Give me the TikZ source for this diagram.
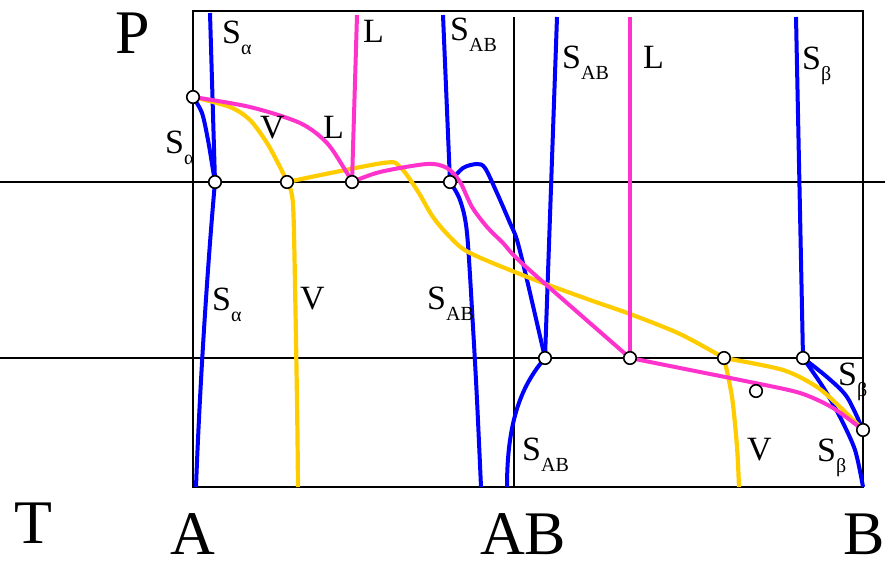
\documentclass[tikz,border=0pt]{standalone}
\usepackage{fontspec}
\setmainfont{Liberation Serif}
\usetikzlibrary{positioning}
\definecolor{phblue}{RGB}{0,0,255}
\definecolor{phpink}{RGB}{255,51,204}
\definecolor{phgold}{RGB}{255,204,0}
\newcommand{\phase}[2]{#1\raisebox{-11pt}{\fontsize{20}{20}\selectfont #2}}

\begin{document}
\begin{tikzpicture}[x=1pt,y=-1pt,
  frame/.style={line width=2pt},
  sb/.style={phblue,line width=4pt},
  sy/.style={phgold,line width=4.2pt},
  sm/.style={phpink,line width=4pt},
  pt/.style={circle,draw,fill=white,inner sep=0pt,minimum size=12.5pt,line width=1.6pt},
  lbl/.style={anchor=base west,inner sep=0pt,font=\fontsize{34}{34}\selectfont},
  big/.style={anchor=base west,inner sep=0pt,font=\fontsize{62}{62}\selectfont}]
  \useasboundingbox (0,0) rectangle (885,560);
  % points where the curves meet
  \coordinate (tp) at (193,97);
  \coordinate (a1) at (215,182);
  \coordinate (v1) at (287,182);
  \coordinate (l1) at (352,182);
  \coordinate (s1) at (450,182);
  \coordinate (s2) at (545,358);
  \coordinate (l2) at (630,358);
  \coordinate (v2) at (724,358);
  \coordinate (b1) at (803,358);
  \coordinate (tb) at (863,430);
  \coordinate (iso) at (756,391);
  % frame and isobars
  \draw[frame] (193,11) rectangle (863,487);
  \draw[frame] (0,182) -- (885,182);
  \draw[frame] (0,358) -- (863,358);
  \draw[frame] (514,17) -- (514,487);
  % solids
  \draw[sb] (210,13) -- (a1);
  \draw[sb] (a1) .. controls (208,260) and (200,380) .. (196,487);
  \draw[sb] plot[smooth] coordinates {(tp) (202,113) (208,140) (213,170) (a1)};
  \draw[sb] (443,15) -- (s1);
  \draw[sb] plot[smooth] coordinates {(s1) (460,200) (467,233) (473,327) (477,400) (481,487)};
  \draw[sb] plot[smooth] coordinates {(s1) (463,168) (477,164) (485,168) (497,193) (510,223) (517,240) (527,280) (s2)};
  \draw[sb] (557,17) -- (s2);
  \draw[sb] (s2) .. controls (522,385) and (507,420) .. (507,487);
  \draw[sb] (796,17) -- (b1);
  \draw[sb] plot[smooth] coordinates {(b1) (827,377) (847,397) (tb)};
  \draw[sb] plot[smooth] coordinates {(b1) (823,387) (840,417) (855,450) (863,487)};
  % vapour
  \draw[sy] plot[smooth] coordinates {(tp) (230,107) (250,120) (267,143) (280,167) (v1)};
  \draw[sy] plot[smooth] coordinates {(v1) (292,195) (294,233) (297,400) (298,487)};
  \draw[sy] plot[smooth] coordinates {(v1) (383,163) (400,167) (417,190) (433,217) (450,237) (470,253) (530,278) (590,300) (630,314) (680,334) (v2)};
  \draw[sy] plot[smooth] coordinates {(v2) (732,397) (737,447) (739,487)};
  \draw[sy] plot[smooth] coordinates {(v2) (783,370) (817,387) (840,407) (tb)};
  % liquid
  \draw[sm] plot[smooth] coordinates {(tp) (250,107) (300,123) (327,143) (347,173) (l1)};
  \draw[sm] (357,15) -- (l1);
  \draw[sm] plot[smooth] coordinates {(l1) (380,172) (427,164) (447,168) (460,182) (472,207) (487,227) (503,243) (525,266) (l2)};
  \draw[sm] (630,17) -- (l2);
  \draw[sm] plot[smooth] coordinates {(l2) (700,372) (750,382) (800,393) (833,408) (tb)};
  % circles
  \node[pt] (ntp) at (tp) {};
  \node[pt] (na1) at (a1) {};
  \node[pt] (nv1) at (v1) {};
  \node[pt] (nl1) at (l1) {};
  \node[pt] (ns1) at (s1) {};
  \node[pt] (ns2) at (s2) {};
  \node[pt] (nl2) at (l2) {};
  \node[pt] (nv2) at (v2) {};
  \node[pt] (nb1) at (b1) {};
  \node[pt] (ntb) at (tb) {};
  \node[pt] (niso) at (iso) {};
  % labels
  \node[lbl] (sa1) at (222,43) {\phase{S}{α}};
  \node[lbl] (la1) at (363,42) {L};
  \node[lbl] (sab1) at (450,40) {\phase{S}{AB}};
  \node[lbl] (sab2) at (562,68) {\phase{S}{AB}};
  \node[lbl] (la2) at (643,68) {L};
  \node[lbl] (sbe1) at (802,69) {\phase{S}{β}};
  \node[lbl] (sa2) at (165,153) {\phase{S}{α}};
  \node[lbl] (va1) at (260,138) {V};
  \node[lbl] (la3) at (323,138) {L};
  \node[lbl] (sa3) at (212,310) {\phase{S}{α}};
  \node[lbl] (va2) at (300,309) {V};
  \node[lbl] (sab3) at (427,309) {\phase{S}{AB}};
  \node[lbl] (sab4) at (522,460) {\phase{S}{AB}};
  \node[lbl] (va3) at (747,460) {V};
  \node[lbl] (sbe2) at (817,461) {\phase{S}{β}};
  \node[lbl] (sbe3) at (838,385) {\phase{S}{β}};
  \node[big] (pax) at (115,53) {P};
  \node[big] (tax) at (14,543) {T};
  \node[big] (cA) at (170,554) {A};
  \node[big] (cAB) at (480,554) {AB};
  \node[big] (cB) at (843,554) {B};
\end{tikzpicture}
\end{document}
